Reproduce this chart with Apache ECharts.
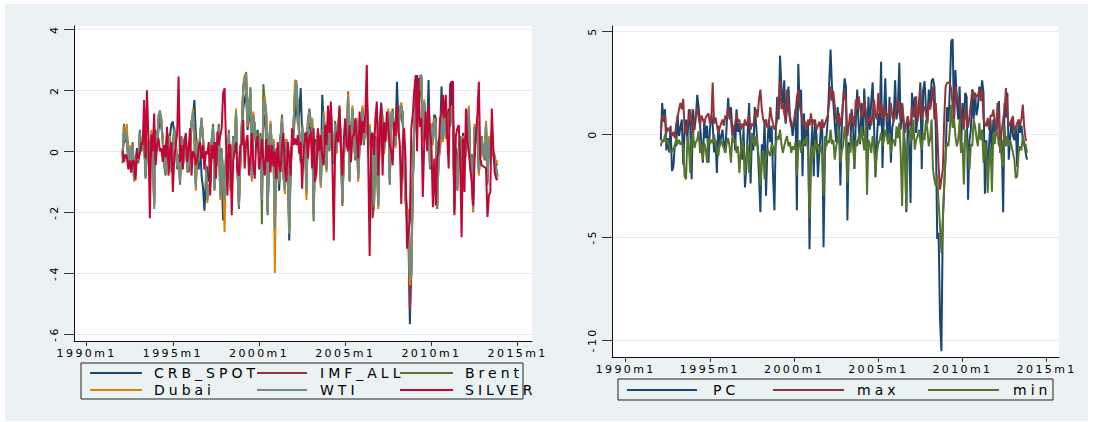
<!DOCTYPE html>
<html>
<head>
<meta charset="utf-8">
<script src="https://cdn.jsdelivr.net/npm/echarts@6/dist/echarts.min.js"></script>
<style>
  html, body { margin: 0; padding: 0; background: #ffffff; }
  #wrap { position: relative; width: 1098px; height: 422px; }
  #bg { position: absolute; left: 5px; top: 4px; width: 1083px; height: 417px; background: #eaf2f3; }
  #chart { position: absolute; left: 0; top: 0; width: 1098px; height: 422px; }
  /* wide Stata-style lettering */
  #chart text[style*="11px"] { letter-spacing: 2.4px; }
  #chart text[style*="14px"] { letter-spacing: 4px; }
</style>
</head>
<body>
<div id="wrap"><div id="bg"></div><div id="chart"></div></div>
<script>
// Monthly observations, first one is 1992m2 (Stata %tm: months since 1960m1)
const startMonth = 385;
const xTicks = [360, 420, 480, 540, 600, 660];
const yTicksLeft = [-6, -4, -2, 0, 2, 4];
const yTicksRight = [-10, -5, 0, 5];

const crbSpot = [
  0.0,0.4,0.3,0.5,-0.2,0.1,-0.3,0.2,-0.6,-0.5,
  0.1,-0.2,0.4,0.2,0.1,0.3,-0.5,0.2,0.2,-0.3,
  0.4,0.3,-1.2,0.5,0.2,0.7,1.0,0.8,0.4,-0.2,
  -0.5,0.6,0.2,0.5,0.9,0.97,0.6,0.2,-0.4,-0.3,
  -0.7,0.3,-0.5,0.0,0.6,-0.4,-0.7,0.1,0.8,1.1,
  1.68,0.6,-0.2,-0.6,0.2,-0.8,-1.2,-1.95,-0.9,-0.5,
  -1.0,-0.8,0.2,0.6,-0.9,0.3,-0.2,0.5,-1.0,-0.7,
  -2.27,-1.3,-0.3,-0.6,0.4,-0.9,-0.2,0.3,0.4,0.9,
  -0.4,-1.2,-0.1,0.6,1.4,1.7,1.9,0.7,1.1,1.4,
  -0.5,0.9,0.6,0.2,0.7,0.1,0.3,-1.0,0.8,1.2,
  0.6,-2.0,-0.2,0.6,-0.3,0.4,-1.4,-0.8,-0.3,-1.3,
  0.5,0.7,-0.9,-1.1,0.4,-0.5,-2.93,-0.6,0.2,0.5,
  1.2,1.6,0.9,1.3,2.07,0.5,0.1,0.6,-0.9,0.8,
  1.0,0.6,0.8,-1.5,0.4,-0.2,0.5,0.3,-0.8,1.85,
  0.9,0.6,-0.4,0.8,0.3,1.0,0.5,-0.1,0.7,0.2,
  0.6,1.0,0.3,-1.2,0.0,0.5,0.4,1.3,-0.6,0.5,
  1.1,0.4,0.0,0.8,-0.6,0.3,0.5,1.1,0.4,0.6,
  1.3,0.2,0.7,0.4,-0.3,-1.2,0.4,0.0,-1.3,0.8,
  1.6,1.0,0.2,0.6,0.9,1.1,-0.6,1.0,1.2,0.8,
  0.5,2.28,1.0,1.3,1.2,0.9,-0.2,-1.3,-2.0,-2.8,
  -5.68,-3.5,-1.2,0.6,1.8,2.5,1.6,2.0,1.9,0.8,
  1.4,1.0,0.6,2.34,0.1,0.9,0.7,1.2,1.1,-1.2,
  0.3,0.5,2.12,0.8,1.1,0.7,1.0,1.4,1.2,2.28,
  1.2,-1.3,0.1,-0.8,0.1,0.5,-0.4,0.6,0.3,0.1,
  0.5,1.2,-0.3,-0.1,-1.3,0.6,0.3,0.8,-0.6,0.0,
  0.3,0.0,-0.2,0.6,-0.8,0.3,0.1,0.4,-0.1,-0.3,
  -0.4,-0.46
];

const imfAll = [
  -0.2,0.7,0.4,0.6,-0.4,0.0,-0.5,0.2,-0.9,-0.7,
  -0.1,-0.3,0.6,0.0,0.2,0.4,-0.8,0.1,0.3,-0.2,
  0.5,0.2,-1.8,0.6,0.1,1.0,1.3,1.0,0.3,-0.4,
  -0.7,0.5,-0.1,0.4,-0.6,0.1,0.7,0.3,-0.5,-0.2,
  -1.0,0.4,-0.3,0.1,0.4,-0.6,-0.5,0.3,0.9,1.2,
  0.6,-1.1,0.3,-0.3,0.5,1.0,0.4,-0.3,-0.6,-1.5,
  -1.2,-1.0,0.3,0.8,-1.2,0.1,-0.4,0.8,-1.4,0.0,
  -0.9,-1.7,-0.2,-0.8,0.6,-1.2,-0.4,0.4,0.2,1.2,
  -0.6,-1.8,-0.3,0.8,2.0,2.3,2.4,0.9,1.5,1.9,
  -0.9,1.2,0.8,0.3,0.5,0.0,0.5,-1.6,1.3,1.6,
  1.2,-1.9,0.3,0.9,0.0,0.3,-2.5,0.0,-0.4,-1.0,
  0.4,1.0,-0.5,-1.3,0.3,0.2,-2.6,-0.3,0.3,0.8,
  1.9,2.2,1.3,0.5,-0.3,0.8,0.2,0.4,-1.3,1.0,
  1.3,0.9,1.0,-2.1,0.2,-0.4,0.6,0.2,-1.1,0.3,
  1.2,0.5,-0.6,1.0,0.1,1.3,0.4,-0.3,0.9,0.0,
  0.8,1.3,0.2,-1.7,-0.2,0.6,0.3,1.96,-0.9,0.5,
  1.4,0.3,-0.2,1.0,-0.9,0.2,0.4,1.4,0.3,0.8,
  1.8,0.1,0.8,0.3,-2.2,-1.8,0.4,-0.2,-1.8,1.0,
  0.5,1.1,0.0,0.5,0.9,1.3,-1.0,1.2,1.3,0.6,
  0.2,1.1,0.7,1.3,1.5,1.2,-0.4,-1.6,-2.2,-2.4,
  -5.2,-4.0,-1.0,0.8,1.5,1.0,1.9,2.4,2.5,0.4,
  1.6,0.8,0.3,1.2,-0.5,0.8,0.3,1.0,0.9,-1.8,
  -0.2,0.1,1.2,0.4,1.0,0.5,0.7,1.2,0.9,1.4,
  1.0,-1.9,-0.2,-1.2,-0.2,0.4,-0.8,0.4,0.1,-0.1,
  0.4,1.4,-0.5,-0.2,-2.0,0.8,0.4,1.0,-0.7,-0.1,
  0.4,-0.1,-0.2,0.9,-1.0,0.4,0.0,0.6,-0.1,-0.2,
  -0.6,-0.8
];

const brent = [
  -0.4,0.9,0.3,0.7,-0.3,0.0,-0.6,0.3,-0.8,-0.8,
  0.0,-0.4,0.7,0.0,0.3,0.3,-0.9,0.2,0.2,-0.1,
  0.5,0.3,-1.7,0.7,0.0,1.0,1.3,0.9,0.4,-0.5,
  -0.8,0.6,0.0,0.3,-0.7,0.2,0.8,0.2,-0.6,-0.1,
  -1.1,0.5,-0.2,0.2,0.3,-0.5,-0.6,0.4,1.0,1.2,
  0.7,-1.1,0.2,-0.4,0.6,1.0,0.5,-0.4,-0.5,-1.5,
  -1.3,-1.0,0.2,0.9,-1.3,0.2,-0.3,0.9,-1.4,0.1,
  -1.0,-1.7,-0.1,-0.9,0.7,-1.1,-0.5,0.5,0.1,1.2,
  -0.5,-1.9,-0.2,0.9,2.0,2.3,2.6,1.0,1.4,2.1,
  -0.8,1.1,0.9,0.2,0.6,-0.1,0.6,-2.4,2.2,1.6,
  1.3,-2.1,0.4,0.8,0.1,0.2,-2.4,0.1,-0.5,-1.1,
  0.5,1.2,-0.4,-1.2,0.2,0.3,-2.5,-0.2,0.2,0.9,
  1.8,2.2,1.4,0.4,-0.4,0.9,0.1,0.5,-1.4,0.9,
  1.4,1.0,0.9,-2.3,0.3,-0.3,0.7,0.1,-1.0,0.4,
  1.1,0.6,-0.5,1.1,0.0,1.4,0.3,-0.4,1.0,0.1,
  0.7,1.4,0.1,-1.8,-0.1,0.7,0.2,1.7,-1.0,0.6,
  1.3,0.4,-0.3,0.9,-0.8,0.3,0.5,1.3,0.2,0.9,
  1.7,0.2,0.7,0.4,-0.4,-1.9,0.5,-0.1,-1.7,1.1,
  0.6,1.0,0.1,0.4,1.0,1.2,-1.1,1.1,1.4,0.5,
  0.3,1.0,0.8,1.2,1.4,1.3,-0.5,-1.5,-2.3,-2.1,
  -4.3,-4.0,-1.1,0.7,1.6,0.9,1.8,2.3,2.4,0.5,
  1.5,0.9,0.2,1.3,-0.6,0.7,0.4,0.9,1.0,-1.9,
  -0.1,0.2,1.1,0.5,0.9,0.6,0.6,1.3,0.8,1.3,
  1.1,-1.8,-0.3,-1.3,-0.1,0.5,-0.9,0.3,0.2,0.0,
  0.3,1.3,-0.6,-0.1,-1.8,0.7,0.5,0.9,-0.6,-0.2,
  0.5,0.0,-0.3,0.8,-1.1,0.3,0.1,0.5,0.0,-0.3,
  -0.5,-0.8
];

const dubai = [
  -0.1,0.8,0.5,0.9,-0.5,0.2,-0.4,0.1,-1.0,-0.6,
  -0.2,-0.2,0.5,0.2,0.3,0.5,-0.7,0.0,0.4,-0.3,
  0.7,0.1,-1.8,0.5,0.2,1.2,1.2,1.1,0.2,-0.3,
  -0.6,0.4,-0.2,0.5,-0.5,0.0,0.6,0.4,-0.4,-0.3,
  -0.9,0.3,-0.4,0.0,0.5,-0.7,-0.4,0.2,0.8,1.4,
  0.5,-1.3,0.4,-0.2,0.4,1.1,0.3,-0.2,-0.7,-1.7,
  -1.1,-1.2,0.4,0.7,-1.1,0.0,-0.5,0.7,-1.6,-0.1,
  -0.8,-2.65,-0.3,-0.7,0.5,-1.3,-0.3,0.3,0.3,1.4,
  -0.7,-1.7,-0.4,0.7,2.2,2.5,2.5,0.8,1.6,1.9,
  -1.0,1.3,0.7,0.4,0.4,0.1,0.4,-1.5,1.4,1.8,
  1.1,-1.9,0.2,1.0,-0.1,0.4,-4.0,-0.1,-0.3,-0.9,
  0.3,1.0,-0.6,-1.4,0.4,0.1,-2.7,-0.4,0.4,0.7,
  2.34,2.2,1.2,0.6,-0.2,0.7,0.3,0.3,-1.6,1.1,
  1.2,0.8,1.1,-2.0,0.1,-0.5,0.5,0.3,-1.2,0.2,
  1.3,0.4,-0.7,0.9,0.2,1.2,0.5,-0.2,0.8,-0.1,
  0.9,1.2,0.3,-1.6,-0.3,0.5,0.4,1.9,-0.8,0.4,
  1.5,0.2,-0.1,1.1,-1.0,0.1,0.3,1.5,0.4,0.7,
  1.9,0.0,0.9,0.2,-0.2,-1.7,0.3,-0.3,-1.9,0.9,
  0.4,1.2,-0.1,0.6,0.8,1.4,-0.9,1.3,1.2,0.7,
  0.1,1.2,0.6,1.4,1.6,1.1,-0.3,-1.7,-2.1,-1.9,
  -4.4,-3.9,-0.9,0.9,1.4,1.1,2.0,2.5,2.4,0.3,
  1.7,0.7,0.4,1.1,-0.4,0.9,0.2,1.1,0.8,-1.7,
  -0.3,0.0,1.3,0.3,1.1,0.4,0.8,1.1,1.0,1.5,
  0.9,-2.0,-0.1,-1.1,-0.3,0.3,-0.7,0.5,0.0,-0.2,
  0.5,1.5,-0.4,-0.3,-2.0,0.9,0.3,1.1,-0.8,0.0,
  0.3,-0.2,-0.1,1.0,-0.9,0.5,-0.1,0.7,-0.2,-0.1,
  -0.4,-0.3
];

const wti = [
  -0.2,0.8,0.4,0.6,-0.4,0.1,-0.5,0.2,-0.9,-0.7,
  -0.1,-0.3,0.6,0.1,0.2,0.4,-0.8,0.1,0.3,-0.2,
  0.6,0.2,-1.9,0.6,0.1,1.1,1.35,1.0,0.3,-0.4,
  -0.7,0.5,-0.1,0.4,-0.6,0.1,0.7,0.3,-0.5,-0.2,
  -1.0,0.4,-0.3,0.1,0.4,-0.6,-0.5,0.3,0.9,1.3,
  0.6,-1.2,0.3,-0.3,0.5,1.1,0.4,-0.3,-0.6,-1.6,
  -1.2,-1.1,0.3,0.8,-1.2,0.1,-0.4,0.8,-1.5,0.0,
  -0.9,-1.6,-0.2,-0.8,0.6,-1.2,-0.4,0.4,0.2,1.3,
  -0.6,-1.8,-0.3,0.8,2.1,2.4,2.56,0.9,1.5,2.0,
  -0.9,1.2,0.8,0.3,0.5,0.0,0.5,-1.6,1.3,1.7,
  1.2,-2.0,0.3,0.9,0.0,0.3,-2.55,0.0,-0.4,-1.0,
  0.4,1.1,-0.5,-1.3,0.3,0.2,-2.66,-0.3,0.3,0.8,
  1.96,2.34,1.3,0.5,-0.3,0.8,0.2,0.4,-1.3,1.0,
  1.3,0.9,1.0,-2.2,0.2,-0.4,0.6,0.2,-1.1,0.3,
  1.2,0.5,-0.6,1.0,0.1,1.3,0.4,-0.3,0.9,0.0,
  0.8,1.3,0.2,-1.7,-0.2,0.6,0.3,1.8,-0.9,0.5,
  1.4,0.3,-0.2,1.0,-0.9,0.2,0.4,1.4,0.3,0.8,
  1.8,0.1,0.8,0.3,-0.3,-1.8,0.4,-0.2,-1.8,1.0,
  0.5,1.1,0.0,0.5,0.9,1.3,-1.0,1.2,1.3,0.6,
  0.2,1.1,0.7,1.3,1.5,1.2,-0.4,-1.6,-2.2,-2.0,
  -4.0,-4.2,-1.0,0.8,1.5,1.0,1.9,2.4,2.5,0.4,
  1.6,0.8,0.3,1.2,-0.5,0.8,0.3,1.0,0.9,-1.8,
  -0.2,0.1,1.2,0.4,1.0,0.5,0.7,1.2,0.9,1.4,
  1.0,-1.9,-0.2,-1.2,-0.2,0.4,-0.8,0.4,0.1,-0.1,
  0.4,1.4,-0.5,-0.2,-1.9,0.8,0.4,1.0,-0.7,-0.1,
  0.4,-0.1,-0.2,0.9,-1.0,0.4,0.0,0.6,-0.1,-0.2,
  -0.6,-0.9
];

const silver = [
  0.0,-0.35,-0.1,-0.2,-0.6,-0.3,-0.7,-0.3,-0.35,-0.95,
  0.0,-0.25,-0.1,0.3,0.2,1.68,-0.24,2.0,0.4,-2.2,
  0.53,0.0,1.24,-0.46,0.2,0.42,0.0,0.1,-0.35,0.2,
  -0.2,0.8,-0.8,0.0,0.3,-1.34,-0.2,0.2,0.6,2.45,
  -0.35,0.2,-0.6,0.4,0.5,-0.35,0.1,0.75,-0.8,0.0,
  -0.1,-0.45,-0.25,0.1,0.3,-0.24,0.2,-0.6,0.0,-0.1,
  0.3,-1.45,0.2,-0.24,0.3,-0.9,0.64,0.2,0.5,0.75,
  1.9,2.07,0.3,-1.45,0.2,0.2,-2.1,-0.35,0.0,0.3,
  -0.65,-0.8,0.2,0.2,1.02,-0.57,0.3,0.53,-0.8,-0.24,
  0.6,-0.4,-0.9,0.3,0.5,-0.6,-0.24,0.4,-0.3,-0.8,
  0.4,-0.35,0.2,-0.7,0.2,-0.5,0.0,-0.9,0.3,-0.46,
  -0.68,0.2,0.6,-0.57,-1.0,0.3,-0.13,-0.8,0.75,0.2,
  0.42,0.2,0.53,-0.1,0.3,-1.23,0.0,0.4,0.64,-0.24,
  0.42,0.64,-0.57,0.75,-1.0,-0.68,0.75,0.0,0.53,-0.2,
  -0.46,0.86,0.2,1.5,0.6,1.63,-0.24,-2.93,0.2,0.64,
  0.3,1.5,0.1,-0.8,0.42,1.08,0.2,0.0,0.86,-0.35,
  0.5,0.53,1.08,0.4,-0.24,1.3,0.2,1.0,0.6,1.2,
  2.83,-0.24,-3.44,0.53,0.6,-0.13,1.08,1.63,-0.8,0.5,
  1.5,-0.8,0.96,0.3,1.3,0.75,0.2,0.0,-0.46,0.96,
  0.5,1.5,0.75,0.2,-1.73,0.2,0.75,-0.3,-3.2,-2.66,
  -2.3,0.75,1.2,1.96,2.5,0.0,2.4,0.8,1.08,-1.5,
  0.3,1.3,0.0,1.5,0.64,0.2,-1.84,-0.24,-1.78,-0.2,
  0.0,1.08,1.2,1.85,1.08,1.85,0.5,-0.57,2.2,2.28,
  2.28,-2.1,0.5,0.75,0.86,-0.24,-2.82,0.42,-1.34,1.4,
  0.3,0.0,-0.57,-1.0,-1.78,-0.35,0.53,1.2,2.28,-0.24,
  -0.46,-0.5,-0.52,-0.57,-2.16,-1.45,-1.34,1.4,0.2,-0.68,
  -0.9,-0.95
];

const pc = [
  -0.3,1.5,0.6,1.2,-0.8,-0.2,-0.9,0.4,-1.8,-1.6,
  -0.5,-0.6,0.9,-0.1,0.3,0.7,-1.5,0.2,0.7,-0.3,
  1.2,0.4,-2.2,1.2,0.2,0.8,1.9,1.3,0.4,-0.5,
  -1.4,0.7,-0.2,0.4,-1.4,0.2,0.9,0.5,-0.9,-0.3,
  -1.9,0.4,-0.6,-0.1,0.2,-0.5,-0.9,0.5,1.75,0.7,
  1.3,0.2,0.4,-0.8,1.2,0.1,0.5,-0.3,-1.25,0.3,
  -2.6,-1.6,0.2,1.5,-2.4,-0.1,-0.8,1.3,0.4,-0.6,
  -2.05,-3.8,-0.5,-1.25,0.7,-3.0,-0.6,0.7,-0.4,0.4,
  -2.05,-3.7,0.2,1.8,0.7,3.8,2.2,1.5,2.6,0.5,
  1.2,2.3,0.9,0.5,-0.1,0.6,1.2,-3.7,3.4,1.3,
  2.15,-2.05,1.0,-0.6,0.2,0.5,-5.6,-1.0,0.4,-2.05,
  0.7,-0.1,-2.1,-0.9,0.2,0.7,-5.5,-0.9,-0.2,0.7,
  2.4,4.1,2.3,1.5,0.5,-0.4,1.3,0.7,-2.5,0.3,
  1.7,2.7,2.3,-4.2,-0.4,-0.9,1.2,0.5,-1.7,0.6,
  2.15,0.4,-0.5,1.5,-0.1,2.2,0.7,-0.6,1.8,0.2,
  1.6,2.5,0.4,-2.1,-0.3,1.0,0.4,3.5,-1.65,0.8,
  2.7,0.5,-0.4,1.8,-1.4,0.3,0.7,2.6,0.7,1.4,
  3.45,0.2,1.5,0.4,-0.6,-3.8,0.7,-0.4,-3.35,2.0,
  0.9,1.8,0.05,0.9,1.5,2.5,-1.7,2.15,2.56,1.2,
  0.5,2.15,1.3,2.56,2.7,2.3,0.2,-5.1,-4.8,-9.0,
  -10.55,-4.2,-2.5,-1.1,1.3,0.6,2.15,4.5,4.6,0.7,
  3.1,1.6,0.7,2.3,-0.9,1.5,0.6,2.0,1.8,-3.2,
  -0.3,0.2,2.15,0.7,2.0,0.9,1.3,2.3,1.8,2.6,
  2.0,-2.9,-0.3,-2.05,-0.5,0.7,-1.25,0.7,0.2,-0.1,
  0.7,1.6,-0.9,-0.3,-3.8,1.5,0.8,2.0,-1.25,-0.2,
  0.7,-0.1,-0.3,0.4,-1.6,0.7,0.05,0.4,-0.2,-0.4,
  -0.9,-1.25
];

const maxSeries = [
  0.05,0.9,0.7,0.9,0.05,0.3,0.2,0.0,-0.1,0.1,
  -0.2,0.5,0.8,1.2,1.5,1.2,1.7,0.2,0.0,0.4,
  0.7,1.2,0.6,-0.1,0.7,0.9,1.3,0.8,0.4,0.9,
  0.7,0.5,0.8,0.9,1.0,0.5,0.7,2.5,0.5,0.8,
  0.4,0.05,0.3,0.5,0.7,0.4,0.9,0.7,1.3,0.9,
  0.7,-0.1,0.3,0.5,1.0,0.6,0.7,0.2,0.5,0.3,
  0.7,0.4,0.6,0.9,0.2,0.5,0.4,0.9,1.2,0.8,
  1.7,2.15,1.2,0.7,0.5,0.7,0.3,0.4,1.3,0.8,
  0.5,0.2,0.4,0.7,1.7,2.56,1.2,1.5,1.0,0.6,
  2.15,1.3,0.7,0.4,0.4,0.7,0.9,1.8,2.15,1.4,
  1.0,0.7,0.4,0.6,0.2,0.7,0.4,1.0,0.4,0.7,
  0.5,0.2,0.4,0.6,0.2,0.7,0.3,0.5,0.7,0.9,
  1.5,2.3,1.6,2.07,1.34,0.7,0.5,1.0,0.37,0.8,
  1.67,2.07,1.5,-0.1,0.4,1.0,0.5,0.86,0.37,1.67,
  1.2,1.83,1.34,0.8,1.0,1.67,1.18,0.5,0.7,0.86,
  0.4,1.0,1.67,0.9,0.7,1.99,1.0,1.5,0.7,1.34,
  0.9,1.0,0.7,1.2,1.5,0.86,0.6,1.0,1.34,1.67,
  1.0,0.7,1.5,0.8,0.05,0.53,0.86,0.5,0.37,1.34,
  0.8,1.0,1.83,0.6,1.0,2.15,0.7,1.1,1.34,1.0,
  0.6,1.5,1.18,1.7,2.3,0.7,1.5,0.2,-1.57,-2.7,
  -2.2,-1.73,0.7,2.3,2.48,2.5,2.48,2.15,1.4,0.7,
  2.3,1.83,1.5,1.5,0.86,0.5,0.2,1.34,0.7,0.3,
  0.86,1.5,2.15,1.99,1.67,1.9,1.83,2.15,1.6,2.15,
  0.7,0.5,0.37,0.78,0.2,0.9,0.86,1.18,0.6,0.2,
  1.5,0.7,-0.92,0.2,0.7,1.18,2.23,1.0,0.37,0.5,
  0.7,0.86,0.05,0.3,0.53,0.7,0.4,0.7,1.42,0.37,
  -0.27,-0.3
];

const minSeries = [
  -0.6,-0.28,-0.4,-0.03,-0.44,-0.3,-0.6,-0.92,-0.84,-0.7,
  -0.6,-0.2,-0.5,-0.28,-0.52,-0.4,-0.6,-2.05,-2.2,-0.11,
  -0.6,-1.9,-0.3,0.05,-0.68,-0.4,-0.28,0.13,-0.92,-0.5,
  -1.25,-0.44,-0.7,-1.4,-0.2,-0.5,-0.28,-0.44,-0.03,-0.5,
  -0.76,-1.08,-0.5,-0.28,-0.52,-0.7,-0.92,-0.44,-0.2,-0.6,
  -1.4,-0.11,-0.4,-0.28,-0.92,-0.6,-1.9,-0.92,-0.28,-0.7,
  -2.0,-1.08,-0.5,-1.9,-0.92,0.05,-0.4,-0.6,-0.11,-0.6,
  -1.2,-2.5,-1.4,-0.8,-2.2,-1.08,-0.7,-0.92,-1.08,-0.5,
  -0.6,-1.08,-0.5,-0.11,-0.28,0.21,-0.5,-0.92,-0.6,-0.3,
  -0.11,-0.6,-0.4,-0.92,-0.6,-0.76,-0.4,-2.0,-0.6,-0.3,
  -0.92,-0.6,-0.28,-0.5,-0.11,-0.9,-4.1,-0.92,-0.6,-1.2,
  -0.28,-0.76,-0.5,-0.92,-0.6,-1.0,-3.0,-0.11,-0.6,-0.3,
  -0.44,0.21,-0.5,-0.28,-1.25,-0.6,-0.3,0.21,-1.4,-0.8,
  -0.6,0.37,-0.28,-2.38,-0.6,-0.9,-0.11,-0.6,-1.57,-0.3,
  -0.6,-0.11,-0.4,0.37,-0.28,-0.8,0.53,-2.95,-0.28,-0.5,
  -0.92,-0.11,-0.6,-1.9,-0.92,-0.5,-0.28,0.05,-0.6,-0.3,
  0.21,-0.11,-0.5,0.05,-0.92,-0.4,-0.28,-0.6,0.37,-0.2,
  0.53,-1.0,-3.5,0.21,-0.92,-3.67,-0.6,-0.28,0.37,-0.3,
  0.7,-0.76,-0.3,-0.11,0.21,-0.4,-0.76,0.05,-0.3,0.7,
  0.21,-0.6,-0.2,0.7,-1.73,-2.22,-2.54,-2.0,-3.35,-4.48,
  -5.78,-4.16,-2.5,-0.92,-0.4,-0.6,0.21,1.42,0.3,0.7,
  -0.11,-0.6,-0.3,0.7,-0.92,-0.4,-2.45,0.21,-0.3,-0.92,
  -1.73,-0.5,-0.6,0.7,0.37,-0.2,-0.6,0.53,-0.3,0.21,
  -1.4,-0.4,-0.92,-2.86,-1.25,-0.6,-2.8,0.05,-0.5,0.21,
  0.05,-0.6,-0.3,-1.25,-1.57,0.37,-0.6,-0.11,-0.6,-0.3,
  -0.6,-0.92,-1.25,-2.15,-2.05,-0.92,-0.6,-0.8,-0.11,-0.6,
  -0.5,-0.92
];

// Stata s2color palette
const colors = {
  navy: '#1a476f', maroon: '#90353b', green: '#55752f',
  orange: '#e37e00', teal: '#6e8e84', cranberry: '#c10534'
};

const FONT = 'DejaVu Sans';

function toPairs(values) {
  return values.map((v, i) => [startMonth + i, v]);
}

function tmLabel(v) {
  return (1960 + Math.floor(v / 12)) + 'm' + ((v % 12) + 1);
}

function lineSeries(name, values, color, idx) {
  return {
    name, type: 'line', xAxisIndex: idx, yAxisIndex: idx,
    data: toPairs(values), showSymbol: false, symbol: 'none',
    lineStyle: { color, width: 2 }, itemStyle: { color },
    emphasis: { disabled: true }
  };
}

function xAxisDef(idx, min, max) {
  return {
    type: 'value', gridIndex: idx, min, max,
    axisLine: { show: true, onZero: false, lineStyle: { color: '#111', width: 1 } },
    axisTick: { show: true, length: 5, customValues: xTicks, lineStyle: { color: '#333' } },
    axisLabel: {
      customValues: xTicks, formatter: tmLabel, margin: 7,
      color: '#000', fontSize: 11, fontFamily: FONT
    },
    splitLine: { show: false }
  };
}

function yAxisDef(idx, min, max, ticks) {
  return {
    type: 'value', gridIndex: idx, min, max,
    axisLine: { show: true, onZero: false, lineStyle: { color: '#111', width: 1 } },
    axisTick: { show: true, length: 10, customValues: ticks, lineStyle: { color: '#333' } },
    axisLabel: {
      customValues: ticks, rotate: 90, margin: 14,
      color: '#000', fontSize: 11, fontFamily: FONT
    },
    splitLine: { show: true, lineStyle: { color: '#e3ebed', width: 1 } }
  };
}

function legendItem(name, left, top, iconWidth, gap) {
  return {
    data: [name], left, top, orient: 'horizontal', padding: 0,
    icon: 'rect', itemWidth: iconWidth, itemHeight: 2, selectedMode: false,
    textStyle: { color: '#000', fontSize: 14, fontFamily: FONT, lineHeight: 14, padding: [0, 0, 0, gap] }
  };
}

const chart = echarts.init(document.getElementById('chart'), null, { renderer: 'svg' });

chart.setOption({
  animation: false,
  backgroundColor: 'transparent',
  graphic: [
    { type: 'rect', shape: { x: 81, y: 363, width: 442, height: 36 },
      style: { fill: 'none', stroke: '#222', lineWidth: 1 }, silent: true },
    { type: 'rect', shape: { x: 618, y: 379, width: 435, height: 21 },
      style: { fill: 'none', stroke: '#222', lineWidth: 1 }, silent: true }
  ],
  grid: [
    { left: 74, top: 26, width: 458, height: 315, show: true, backgroundColor: '#ffffff', borderWidth: 0, outerBoundsMode: 'none' },
    { left: 612, top: 26, width: 447, height: 331, show: true, backgroundColor: '#ffffff', borderWidth: 0, outerBoundsMode: 'none' }
  ],
  xAxis: [ xAxisDef(0, 351.2, 670), xAxisDef(1, 350.24, 668.8) ],
  yAxis: [ yAxisDef(0, -6.23, 4.11, yTicksLeft), yAxisDef(1, -10.83, 5.24, yTicksRight) ],
  legend: [
    legendItem('CRB_SPOT', 90, 366, 52, 7),
    legendItem('Dubai', 90, 383, 52, 7),
    legendItem('IMF_ALL', 257, 366, 50, 8),
    legendItem('WTI', 257, 383, 50, 8),
    legendItem('Brent', 400, 366, 53, 7),
    legendItem('SILVER', 400, 383, 53, 7),
    legendItem('PC', 627, 383, 70, 11),
    legendItem('max', 773, 383, 71, 8),
    legendItem('min', 928, 383, 71, 9)
  ],
  series: [
    lineSeries('CRB_SPOT', crbSpot, colors.navy, 0),
    lineSeries('IMF_ALL', imfAll, colors.maroon, 0),
    lineSeries('Brent', brent, colors.green, 0),
    lineSeries('Dubai', dubai, colors.orange, 0),
    lineSeries('WTI', wti, colors.teal, 0),
    lineSeries('SILVER', silver, colors.cranberry, 0),
    lineSeries('PC', pc, colors.navy, 1),
    lineSeries('max', maxSeries, colors.maroon, 1),
    lineSeries('min', minSeries, colors.green, 1)
  ]
});
</script>
</body>
</html>
